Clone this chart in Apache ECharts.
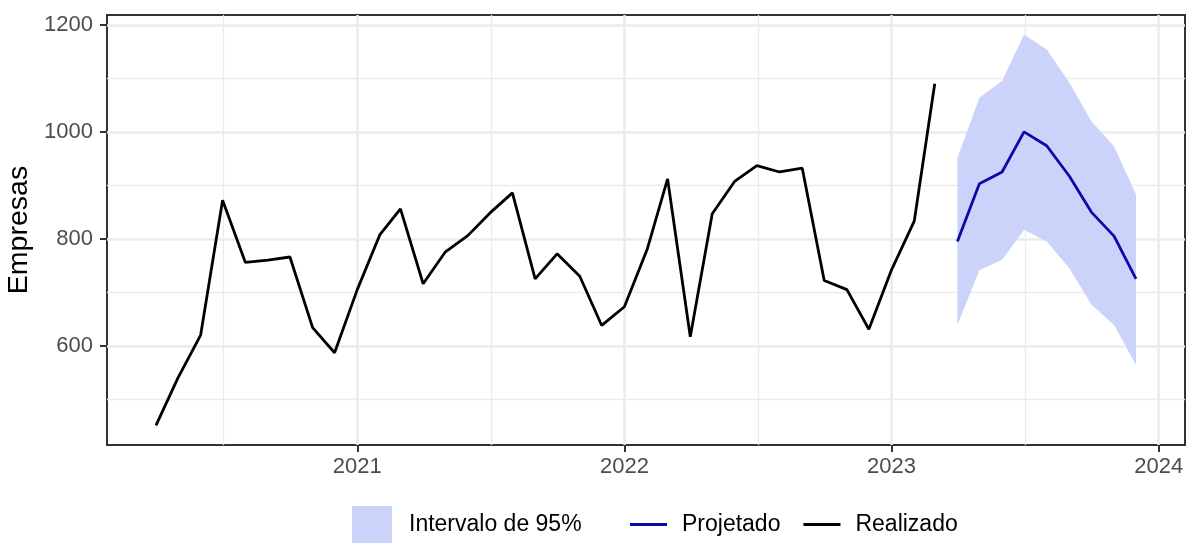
<!DOCTYPE html>
<html>
<head>
<meta charset="utf-8">
<script src="https://cdn.jsdelivr.net/npm/echarts@6/dist/echarts.min.js"></script>
<style>
html,body{margin:0;padding:0;background:#fff;}
#chart{width:1186px;height:543px;}
</style>
</head>
<body>
<div id="chart"></div>
<script>
// ---- data ----
const realizedMonths = [
  '2020-04','2020-05','2020-06','2020-07','2020-08','2020-09','2020-10','2020-11','2020-12',
  '2021-01','2021-02','2021-03','2021-04','2021-05','2021-06','2021-07','2021-08','2021-09','2021-10','2021-11','2021-12',
  '2022-01','2022-02','2022-03','2022-04','2022-05','2022-06','2022-07','2022-08','2022-09','2022-10','2022-11','2022-12',
  '2023-01','2023-02','2023-03'
];
const realized = [
  451, 540, 620, 872, 756, 760, 766, 634, 587,
  705, 808, 856, 716, 775, 806, 848, 886, 725, 772, 730, 638,
  673, 780, 912, 617, 847, 908, 937, 925, 932, 722, 705, 631,
  742, 833, 1090
];
const forecastMonths = ['2023-04','2023-05','2023-06','2023-07','2023-08','2023-09','2023-10','2023-11','2023-12'];
const projected = [795, 903, 925, 1000, 974, 917, 850, 805, 725];
const upper95   = [951, 1064, 1095, 1182, 1154, 1092, 1020, 973, 883];
const lower95   = [639, 741, 761, 817, 795, 745, 677, 639, 564];
const yTicks = [600, 800, 1000, 1200];
const yMinor = [500, 700, 900, 1100];
const xTickYears = [2021, 2022, 2023, 2024];

// ---- helpers ----
const ts = m => { const [y, mo] = m.split('-').map(Number); return Date.UTC(y, mo - 1, 1); };
const xMajor = xTickYears.map(y => Date.UTC(y, 0, 1));
const xMinor = [Date.UTC(2020,0,1)].concat(xMajor).slice(0, -1).map((v, i, a) => {
  const next = i + 1 < a.length ? a[i + 1] : xMajor[xMajor.length - 1];
  return (v + next) / 2;
});
const allX = realizedMonths.concat(forecastMonths).map(ts);
const xLo = Math.min(...allX), xHi = Math.max(...allX);
const xPad = (xHi - xLo) * 0.05;
const allY = realized.concat(upper95, lower95, projected);
const yLo = Math.min(...allY), yHi = Math.max(...allY);
const yPad = (yHi - yLo) * 0.05;

const FONT = '"Liberation Sans", Arial, sans-serif';
const chart = echarts.init(document.getElementById('chart'), null, {renderer: 'canvas'});

const xCommon = {type: 'value', min: xLo - xPad, max: xHi + xPad, scale: true};
const yCommon = {type: 'value', min: yLo - yPad, max: yHi + yPad, scale: true};

const bandData = forecastMonths.map((m, i) => [ts(m), lower95[i], upper95[i]]);

chart.setOption({
  animation: false,
  backgroundColor: '#fff',
  grid: {left: 107, right: 1, top: 15, bottom: 98, show: true, borderColor: '#333333', borderWidth: 2,
         backgroundColor: 'transparent', containLabel: false, outerBoundsMode: 'none'},
  xAxis: [
    Object.assign({}, xCommon, {
      axisLine: {show: false},
      axisTick: {show: true, length: 7, customValues: xMajor, lineStyle: {color: '#333333', width: 2}},
      axisLabel: {customValues: xMajor, formatter: v => String(new Date(v).getUTCFullYear()), color: '#4D4D4D', fontSize: 22, fontFamily: FONT, margin: 11},
      splitLine: {show: true, lineStyle: {color: '#EBEBEB', width: 2.5}}
    }),
    Object.assign({}, xCommon, {
      position: 'bottom',
      axisLine: {show: false}, axisTick: {show: false, customValues: xMinor}, axisLabel: {show: false, customValues: xMinor},
      splitLine: {show: true, lineStyle: {color: '#EBEBEB', width: 1.3}}
    })
  ],
  yAxis: [
    Object.assign({}, yCommon, {
      name: 'Empresas', nameLocation: 'middle', nameGap: 67,
      nameTextStyle: {color: '#000', fontSize: 28.5, fontFamily: FONT},
      axisLine: {show: false},
      axisTick: {show: true, length: 7, customValues: yTicks, lineStyle: {color: '#333333', width: 2}},
      axisLabel: {customValues: yTicks, formatter: v => String(v), color: '#4D4D4D', fontSize: 22, fontFamily: FONT, margin: 14},
      splitLine: {show: true, lineStyle: {color: '#EBEBEB', width: 2.5}}
    }),
    Object.assign({}, yCommon, {
      position: 'left',
      axisLine: {show: false}, axisTick: {show: false, customValues: yMinor}, axisLabel: {show: false, customValues: yMinor},
      splitLine: {show: true, lineStyle: {color: '#EBEBEB', width: 1.3}}
    })
  ],
  legend: [
    {
      data: [{name: 'Intervalo de 95%', icon: 'rect'}],
      left: 352, top: 506, padding: 0, itemWidth: 40, itemHeight: 37,
      textStyle: {color: '#000', fontSize: 23, fontFamily: FONT, padding: [0, 0, 0, 12]},
      selectedMode: false
    },
    {
      data: [{name: 'Projetado', icon: 'rect'}, {name: 'Realizado', icon: 'rect'}],
      left: 630, top: 513, padding: 0, itemWidth: 37, itemHeight: 3, itemGap: 23,
      textStyle: {color: '#000', fontSize: 23, fontFamily: FONT, padding: [0, 0, 0, 10]},
      selectedMode: false
    }
  ],
  series: [
    {
      name: 'Intervalo de 95%', type: 'custom', xAxisIndex: 0, yAxisIndex: 0,
      itemStyle: {color: '#CCD3FA'},
      data: [0],
      encode: {x: [], y: []},
      silent: true, z: 1,
      renderItem: function (params, api) {
        const top = bandData.map(d => api.coord([d[0], d[2]]));
        const bot = bandData.slice().reverse().map(d => api.coord([d[0], d[1]]));
        return {type: 'polygon', shape: {points: top.concat(bot)}, style: {fill: '#CCD3FA'}};
      }
    },
    {
      name: 'Projetado', type: 'line', xAxisIndex: 0, yAxisIndex: 0,
      data: forecastMonths.map((m, i) => [ts(m), projected[i]]),
      symbol: 'none', itemStyle: {color: '#0A0AA6'}, lineStyle: {color: '#0A0AA6', width: 2.8}, z: 3
    },
    {
      name: 'Realizado', type: 'line', xAxisIndex: 0, yAxisIndex: 0,
      data: realizedMonths.map((m, i) => [ts(m), realized[i]]),
      symbol: 'none', itemStyle: {color: '#000'}, lineStyle: {color: '#000', width: 2.8}, z: 3
    }
  ]
});
</script>
</body>
</html>
